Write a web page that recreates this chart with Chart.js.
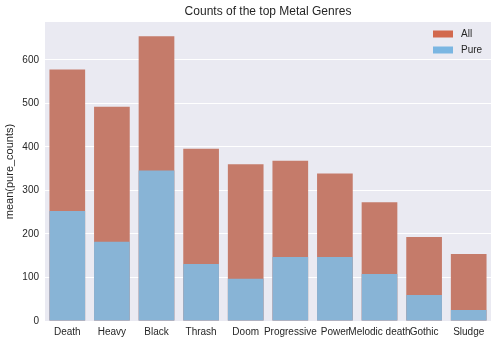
<!DOCTYPE html>
<html><head><meta charset="utf-8">
<script src="https://cdn.jsdelivr.net/npm/chart.js@4/dist/chart.umd.min.js"></script>
<style>html,body{margin:0;padding:0;background:#fff}#wrap{width:498px;height:345px}</style>
</head><body><div id="wrap"><canvas id="c" width="498" height="345"></canvas></div>
<script>
const categories = ["Death","Heavy","Black","Thrash","Doom","Progressive","Power","Melodic death","Gothic","Sludge"];
const allCounts = [578, 492, 654, 396, 360, 368, 339, 273, 193, 154];
const pureCounts = [253, 182, 346, 131, 97, 147, 147, 108, 60, 25];
const seriesNames = ["All", "Pure"];
const yTicks = [0,100,200,300,400,500,600];
const titleText = "Counts of the top Metal Genres";
const yLabel = "mean(pure_counts)";

const FONT = "'Liberation Sans', Arial, sans-serif";
const barColors = ["#c57b6a", "#88b4d6"];
const patchColors = ["#d2694e", "#7ab6e2"];

const bgPlugin = {
  id: 'bg',
  beforeDraw(chart) {
    const {ctx, chartArea: a} = chart;
    ctx.save();
    ctx.fillStyle = '#fff';
    ctx.fillRect(0,0,chart.width,chart.height);
    ctx.fillStyle = '#eaeaf2';
    ctx.fillRect(a.left, a.top, a.right - a.left, a.bottom - a.top);
    ctx.restore();
  },
  afterDraw(chart) {
    const {ctx, chartArea: a} = chart;
    ctx.save();
    ctx.fillStyle = '#262626';
    ctx.font = "12px " + FONT;
    ctx.textAlign = 'center';
    ctx.textBaseline = 'middle';
    ctx.fillText(titleText, (a.left + a.right) / 2, 12);
    ctx.font = "11px " + FONT;
    ctx.translate(10, (a.top + a.bottom) / 2);
    ctx.rotate(-Math.PI / 2);
    ctx.fillText(yLabel, 0, 0);
    ctx.restore();
    ctx.save();
    ctx.font = "10px " + FONT;
    ctx.textAlign = 'left';
    ctx.textBaseline = 'middle';
    seriesNames.forEach((n, i) => {
      const y = 34 + i * 16;
      ctx.fillStyle = patchColors[i];
      ctx.fillRect(433, y - 3.5, 20, 7);
      ctx.fillStyle = '#262626';
      ctx.fillText(n, 461, y);
    });
    ctx.restore();
  }
};

new Chart(document.getElementById('c'), {
  type: 'bar',
  data: {
    labels: categories,
    datasets: [
      { label: seriesNames[0], data: allCounts, backgroundColor: barColors[0], order: 1,
        barPercentage: 0.8, categoryPercentage: 1.0 },
      { label: seriesNames[1], data: pureCounts, backgroundColor: barColors[1], order: 0,
        barPercentage: 0.8, categoryPercentage: 1.0 }
    ]
  },
  options: {
    responsive: false,
    animation: false,
    devicePixelRatio: 1,
    layout: { padding: { top: 22, right: 7, left: 0, bottom: 0 } },
    plugins: { legend: { display: false }, title: { display: false }, tooltip: { enabled: false } },
    scales: {
      x: {
        stacked: true,
        grid: { display: false, drawTicks: false, tickLength: 0 },
        border: { display: false },
        ticks: { color: '#262626', font: { family: FONT, size: 10 }, padding: 5, maxRotation: 0, autoSkip: false },
        afterFit(s) { s.height = 24; }
      },
      y: {
        stacked: false,
        min: 0, max: 687,
        afterBuildTicks(s) { s.ticks = yTicks.map(v => ({ value: v })); },
        grid: { color: '#ffffff', lineWidth: 1, drawTicks: false },
        border: { display: false },
        ticks: { color: '#262626', font: { family: FONT, size: 10 }, padding: 6 },
        afterFit(s) { s.width = 45; }
      }
    }
  },
  plugins: [bgPlugin]
});
</script>
</body></html>
